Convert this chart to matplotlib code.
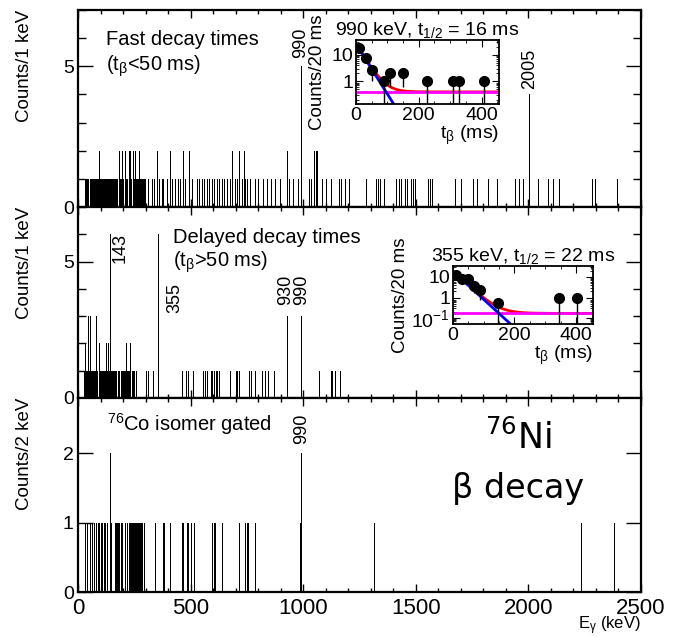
import numpy as np
import matplotlib.pyplot as plt
from matplotlib.ticker import MultipleLocator, FixedLocator, NullFormatter, LogLocator

plt.rcParams['font.family'] = ['Liberation Sans', 'DejaVu Sans']
plt.rcParams['mathtext.fontset'] = 'custom'
plt.rcParams['mathtext.rm'] = 'Liberation Sans'
plt.rcParams['mathtext.it'] = 'Liberation Sans'

# fast decay times (t_beta < 50 ms), counts per 1 keV
fast_one = [31, 34, 37, 40, 43, 46, 53, 56, 59, 62, 65, 68, 71, 74, 77, 80, 83, 86, 89,
            99, 102, 105, 108, 111, 114, 117, 120, 123, 127, 130, 133, 136, 139, 142, 145,
            148, 151, 154, 157, 160, 163, 166, 169, 172, 175, 185, 188, 191, 200, 211, 215,
            218, 229, 236, 248, 251, 259, 262, 265, 268, 277, 280, 283, 286, 289, 292, 296,
            312, 327, 337, 361, 371, 379, 394, 416, 431, 445, 453, 476, 505, 527, 539, 549,
            559, 574, 583, 595, 605, 616, 627, 638, 648, 660, 675, 697, 707, 716, 727, 741,
            752, 764, 786, 800, 823, 838, 855, 875, 897, 938, 953, 978, 1026, 1034, 1085,
            1103, 1122, 1159, 1167, 1184, 1204, 1281, 1325, 1333, 1340, 1358, 1411, 1426,
            1436, 1451, 1459, 1478, 1488, 1496, 1555, 1565, 1570, 1673, 1703, 1755, 1770,
            1822, 1859, 1940, 1959, 1977, 2044, 2088, 2111, 2137, 2281, 2296, 2392]
fast_two = [95, 181, 196, 207, 226, 233, 244, 255, 273, 349, 407, 466, 493, 685, 715, 737,
            930, 1048, 1056, 1063]
fast_peak_e = [990, 2005]
fast_peak_n = [5, 4]

# delayed decay times (t_beta > 50 ms), counts per 1 keV
del_one = [27, 30, 36, 39, 46, 49, 52, 58, 61, 64, 67, 71, 75, 78, 86, 94, 98, 102, 106,
           110, 114, 118, 128, 138, 141, 148, 152, 156, 160, 166, 170, 176, 180, 184, 190,
           194, 198, 202, 206, 210, 218, 222, 226, 238, 244, 250, 256, 303, 312, 333, 463,
           478, 490, 510, 555, 564, 574, 589, 596, 604, 611, 619, 626, 673, 700, 707, 715,
           759, 767, 785, 819, 830, 845, 870, 1071, 1122, 1130, 1141, 1163]
del_two = [31, 33, 91, 125, 135, 213, 231]
del_three = [43, 55, 81, 930, 990]
del_peak_e = [143, 355]
del_peak_n = [6, 6]

# 76Co isomer gated, counts per 2 keV
iso_one = [32, 40, 52, 62, 70, 78, 82, 88, 92, 100, 108, 114, 122, 130, 148, 164, 168, 174,
           178, 184, 190, 194, 208, 216, 226, 232, 236, 240, 244, 248, 252, 256, 260, 264,
           268, 272, 276, 280, 286, 292, 344, 376, 380, 410, 462, 466, 486, 490, 500, 516,
           594, 602, 610, 638, 716, 742, 750, 756, 784, 984, 986, 1314, 2232, 2382]
iso_two = [143, 990]

# decay curves in the insets
t1 = [10, 32, 50, 89, 108, 149, 227, 308, 329, 407]
n1 = [17.8, 7.5, 2.7, 1.0, 2.05, 2.05, 1.0, 1.0, 1.0, 1.0]
fit1_a, fit1_hl, fit1_bg = 26, 16, 0.40

t2 = [10, 28, 48, 68, 88, 148, 344, 402]
n2 = [12, 7.7, 8.2, 3.6, 2.3, 0.52, 1.0, 1.0]
fit2_a, fit2_hl, fit2_bg = 19, 22, 0.17

fig = plt.figure(figsize=(6.79, 6.37), dpi=100)
ax1 = fig.add_axes([0.1149, 0.675, 0.829, 0.3093])
ax2 = fig.add_axes([0.1149, 0.3752, 0.829, 0.2998])
ax3 = fig.add_axes([0.1149, 0.0706, 0.829, 0.3046])


def bars(ax, energies, n):
    ax.vlines(energies, 0, n, color='black', lw=0.72, antialiased=False)


bars(ax1, fast_one, 1)
bars(ax1, fast_two, 2)
bars(ax1, fast_peak_e, fast_peak_n)
bars(ax2, del_one, 1)
bars(ax2, del_two, 2)
bars(ax2, del_three, 3)
bars(ax2, del_peak_e, del_peak_n)
bars(ax3, iso_one, 1)
bars(ax3, iso_two, 2)

for ax in [ax1, ax2, ax3]:
    ax.set_xlim(0, 2500)
    ax.xaxis.set_major_locator(MultipleLocator(500))
    ax.xaxis.set_minor_locator(MultipleLocator(100))
    ax.tick_params(which='both', direction='in', top=True, right=True, width=1)
    ax.tick_params(axis='x', which='major', length=6, labelsize=16, pad=4)
    ax.tick_params(axis='x', which='minor', length=3)
    ax.tick_params(axis='y', which='major', length=11, labelsize=14, pad=3)
    ax.tick_params(axis='y', which='minor', length=5.5)
    for s in ax.spines.values():
        s.set_linewidth(1.6)

for ax in [ax1, ax2]:
    ax.set_ylim(0, 7)
    ax.yaxis.set_major_locator(FixedLocator([0, 5]))
    ax.yaxis.set_minor_locator(MultipleLocator(1))
    ax.set_xticklabels([])
    ax.set_ylabel('Counts/1 keV', fontsize=13.5, loc='top')
    ax.yaxis.set_label_coords(-0.08, 1.0)

ax3.set_ylim(0, 2.8)
ax3.yaxis.set_major_locator(FixedLocator([0, 1, 2]))
ax3.set_ylabel('Counts/2 keV', fontsize=13.5, loc='top')
ax3.yaxis.set_label_coords(-0.08, 1.0)
ax3.set_xlabel(r'E$_{\gamma}$ (keV)', fontsize=12, loc='right', labelpad=-3)

ax1.text(124, 5.96, 'Fast decay times', fontsize=14.5, va='center')
ax1.text(124, 5.0, r'(t$_{\mathrm{\beta}}$<50 ms)', fontsize=14.5, va='center')
ax1.text(990, 5.3, '990', rotation=90, fontsize=13, ha='center', va='bottom')
ax1.text(2007, 4.2, '2005', rotation=90, fontsize=13, ha='center', va='bottom')

ax2.text(421, 5.88, 'Delayed decay times', fontsize=14.5, va='center')
ax2.text(421, 4.96, r'(t$_{\mathrm{\beta}}$>50 ms)', fontsize=14.5, va='center')
ax2.text(189, 4.96, '143', rotation=90, fontsize=13, ha='center', va='bottom')
ax2.text(431, 3.1, '355', rotation=90, fontsize=13, ha='center', va='bottom')
ax2.text(924, 3.4, '930', rotation=90, fontsize=13, ha='center', va='bottom')
ax2.text(993, 3.4, '990', rotation=90, fontsize=13, ha='center', va='bottom')

ax3.text(128, 2.42, r'$^{76}$Co isomer gated', fontsize=14.5, va='center')
ax3.text(993, 2.13, '990', rotation=90, fontsize=13, ha='center', va='bottom')
ax3.text(1954, 2.22, r'$^{76}$Ni', fontsize=25, ha='center', va='center',
         family='DejaVu Sans', math_fontfamily='dejavusans')
ax3.text(1954, 1.5, 'β decay', fontsize=24, ha='center', va='center', family='DejaVu Sans')


def inset(rect, t, n, a, hl, bg, ylim, yticks, ylabels, title, labelpad):
    ax = fig.add_axes(rect)
    ax.set_yscale('log')
    ax.set_xlim(0, 455)
    ax.set_ylim(*ylim)
    tt = np.linspace(0, 455, 400)
    expo = a * np.exp(-np.log(2) * tt / hl)
    ax.plot(tt, expo + bg, color='red', lw=2)
    ax.axhline(bg, color='magenta', lw=2)
    ax.plot(tt, expo, color='blue', lw=2)
    t = np.array(t)
    n = np.array(n)
    lo = np.clip(n - np.sqrt(n), 1e-4, None)
    ax.vlines(t, lo, n, color='black', lw=1)
    ax.plot(t, n, 'o', color='black', ms=7)
    ax.xaxis.set_major_locator(FixedLocator([0, 200, 400]))
    ax.xaxis.set_minor_locator(MultipleLocator(50))
    ax.yaxis.set_major_locator(FixedLocator(yticks))
    ax.set_yticklabels(ylabels)
    ax.yaxis.set_minor_locator(LogLocator(subs=np.arange(2, 10)))
    ax.yaxis.set_minor_formatter(NullFormatter())
    ax.tick_params(which='both', direction='in', top=True, right=True, labelsize=14, pad=2)
    ax.tick_params(which='major', length=5)
    ax.tick_params(which='minor', length=2.5)
    for s in ax.spines.values():
        s.set_linewidth(1.3)
    ax.set_title(title, fontsize=14, pad=3)
    ax.set_ylabel('Counts/20 ms', fontsize=13.5, labelpad=labelpad)
    ax.set_xlabel(r't$_{\mathrm{\beta}}$ (ms)', fontsize=14, loc='right', labelpad=0)
    return ax


inset([0.524, 0.8367, 0.2106, 0.1005], t1, n1, fit1_a, fit1_hl, fit1_bg, (0.14, 36),
      [1, 10], ['1', '10'], r'990 keV, t$_{1/2}$ = 16 ms', 4)
inset([0.667, 0.4914, 0.2062, 0.091], t2, n2, fit2_a, fit2_hl, fit2_bg, (0.052, 34),
      [0.1, 1, 10], [r'10$^{-1}$', '1', '10'], r'355 keV, t$_{1/2}$ = 22 ms', 2)

fig.savefig('out.png', dpi=100)
